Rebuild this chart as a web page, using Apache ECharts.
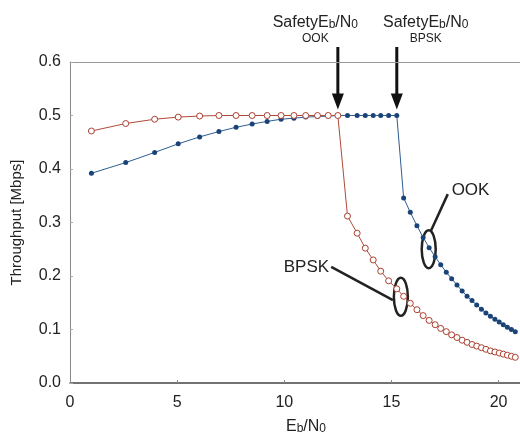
<!DOCTYPE html>
<html>
<head>
<meta charset="utf-8">
<script src="https://cdn.jsdelivr.net/npm/echarts@6/dist/echarts.min.js"></script>
<style>
  html, body { margin: 0; padding: 0; background: #fff; }
  #chart { width: 520px; height: 444px; }
</style>
</head>
<body>
<div id="chart"></div>
<script>
// Eb/N0 sample points (shared by both curves)
const ebn0 = [1.0, 2.6, 3.95, 5.05, 6.05, 6.95, 7.75, 8.5, 9.2, 9.85, 10.45, 11.0, 11.55, 12.05, 12.5,
  12.95, 13.4, 13.78, 14.15, 14.5, 14.87, 15.25,
  15.57, 15.88, 16.19, 16.48, 16.76, 17.04, 17.30, 17.56, 17.81, 18.06, 18.30, 18.53,
  18.76, 18.98, 19.20, 19.41, 19.62, 19.83, 20.03, 20.22, 20.41, 20.60, 20.78];

// open red circles (labelled BPSK)
const bpsk = [0.471, 0.485, 0.493, 0.497, 0.499, 0.5, 0.5, 0.5, 0.5, 0.5, 0.5, 0.5, 0.5, 0.5, 0.5,
  0.312, 0.280, 0.252, 0.230, 0.209, 0.191, 0.176,
  0.162, 0.149, 0.137, 0.126, 0.117, 0.109, 0.102, 0.096, 0.090, 0.085, 0.080, 0.076,
  0.072, 0.069, 0.066, 0.063, 0.060, 0.058, 0.056, 0.054, 0.052, 0.050, 0.048];

// filled blue dots (labelled OOK)
const ook = [0.392, 0.412, 0.431, 0.447, 0.460, 0.470, 0.478, 0.484, 0.489, 0.493, 0.495, 0.497, 0.498, 0.499, 0.5,
  0.5, 0.5, 0.5, 0.5, 0.5, 0.5, 0.5,
  0.346, 0.319, 0.294, 0.272, 0.253, 0.236, 0.221, 0.207, 0.195, 0.183, 0.172, 0.162,
  0.154, 0.146, 0.138, 0.131, 0.125, 0.119, 0.114, 0.109, 0.104, 0.100, 0.096];

const xTicks = [0, 5, 10, 15, 20];
const safetyOOK = 12.5;   // where the arrows point
const safetyBPSK = 15.25;

const myChart = echarts.init(document.getElementById('chart'));
const font = 'Liberation Sans, Arial, sans-serif';
const ink = '#222';

const option = {
  backgroundColor: '#fff',
  animation: false,
  grid: { left: 70, right: 0, top: 62, bottom: 61 },
  xAxis: [
    {
      type: 'value', min: 0, max: 21,
      name: '{a|E}{b|b}{a|/N}{b|0}',
      nameLocation: 'middle', nameGap: 36,
      nameTextStyle: {
        padding: [0, 0, 0, 22],
        rich: {
          a: { fontSize: 16, fontFamily: font, color: ink },
          b: { fontSize: 12, fontFamily: font, color: ink, padding: [4, 0, 0, 0] }
        }
      },
      axisLine: { lineStyle: { color: '#444', width: 1.5 } },
      axisTick: { inside: true, length: 3, customValues: xTicks, lineStyle: { color: '#888' } },
      axisLabel: { customValues: xTicks, fontSize: 16, fontFamily: font, color: ink, margin: 12 },
      splitLine: { show: false }
    },
    {
      // thin top frame line
      type: 'value', min: 0, max: 21, position: 'top',
      axisLine: { show: true, lineStyle: { color: '#999', width: 1 } },
      axisTick: { show: false }, axisLabel: { show: false }, splitLine: { show: false }
    }
  ],
  yAxis: {
    type: 'value', min: 0, max: 0.6, interval: 0.1,
    name: 'Throughput [Mbps]',
    nameLocation: 'middle', nameGap: 46,
    nameTextStyle: { fontSize: 15, fontFamily: font, color: ink },
    axisLine: { show: true, lineStyle: { color: '#888', width: 1 } },
    axisTick: { show: true, inside: true, length: 3, lineStyle: { color: '#aaa' } },
    axisLabel: { fontSize: 16, fontFamily: font, color: ink, margin: 9,
      formatter: v => v.toFixed(1) },
    splitLine: { show: false }
  },
  series: [
    {
      name: 'OOK', type: 'line',
      data: ebn0.map((x, i) => [x, ook[i]]),
      symbol: 'circle', symbolSize: 5,
      lineStyle: { color: '#2d5d93', width: 1 },
      itemStyle: { color: '#1a4478', borderWidth: 0 }
    },
    {
      name: 'BPSK', type: 'line',
      data: ebn0.map((x, i) => [x, bpsk[i]]),
      symbol: 'circle', symbolSize: 6,
      lineStyle: { color: '#b04a3a', width: 1 },
      itemStyle: { color: '#fff', borderColor: '#a9402f', borderWidth: 1 }
    }
  ]
};

myChart.setOption(option);

// annotations placed in data coordinates
const px = (x, y) => myChart.convertToPixel({ gridIndex: 0 }, [x, y]);

function arrow(x) {
  const tip = px(x, 0.511);
  const top = px(x, 0.628);
  return [
    { type: 'line', shape: { x1: top[0], y1: top[1], x2: tip[0], y2: tip[1] - 12 },
      style: { stroke: '#111', lineWidth: 3 } },
    { type: 'polygon', shape: { points: [[tip[0] - 6, tip[1] - 16], [tip[0] + 6, tip[1] - 16], [tip[0], tip[1]]] },
      style: { fill: '#111' } }
  ];
}

function safetyLabel(cx, sub) {
  const p = px(cx, 0.673);
  const q = px(cx, 0.643);
  return [
    { type: 'text', x: p[0], y: p[1],
      style: { text: '{a|SafetyE}{b|b}{a|/N}{b|0}', align: 'center', verticalAlign: 'middle',
        rich: { a: { fontSize: 16, fontFamily: font, fill: ink },
                b: { fontSize: 12, fontFamily: font, fill: ink, padding: [4, 0, 0, 0] } } } },
    { type: 'text', x: q[0], y: q[1],
      style: { text: sub, align: 'center', verticalAlign: 'middle', fontSize: 12, fontFamily: font, fill: ink } }
  ];
}

function ellipse(x, y) {
  const c = px(x, y);
  return { type: 'ellipse', shape: { cx: c[0], cy: c[1], rx: 7, ry: 19 },
    style: { fill: 'none', stroke: '#222', lineWidth: 2.5 } };
}

function callout(x1, y1, x2, y2) {
  const a = px(x1, y1), b = px(x2, y2);
  return { type: 'line', shape: { x1: a[0], y1: a[1], x2: b[0], y2: b[1] },
    style: { stroke: '#222', lineWidth: 2.5 } };
}

const oookText = px(17.81, 0.361);
const bpskText = px(12.09, 0.217);

const graphic = [].concat(
  arrow(safetyOOK), arrow(safetyBPSK),
  safetyLabel(11.45, 'OOK'), safetyLabel(16.6, 'BPSK'),
  [
    ellipse(16.74, 0.250),
    ellipse(15.44, 0.161),
    callout(17.63, 0.353, 16.84, 0.284),
    callout(12.19, 0.217, 15.07, 0.155),
    { type: 'text', x: oookText[0], y: oookText[1],
      style: { text: 'OOK', align: 'left', verticalAlign: 'middle', fontSize: 17, fontFamily: font, fill: ink } },
    { type: 'text', x: bpskText[0], y: bpskText[1],
      style: { text: 'BPSK', align: 'right', verticalAlign: 'middle', fontSize: 17, fontFamily: font, fill: ink } }
  ]
);

myChart.setOption({ graphic: graphic });
</script>
</body>
</html>
